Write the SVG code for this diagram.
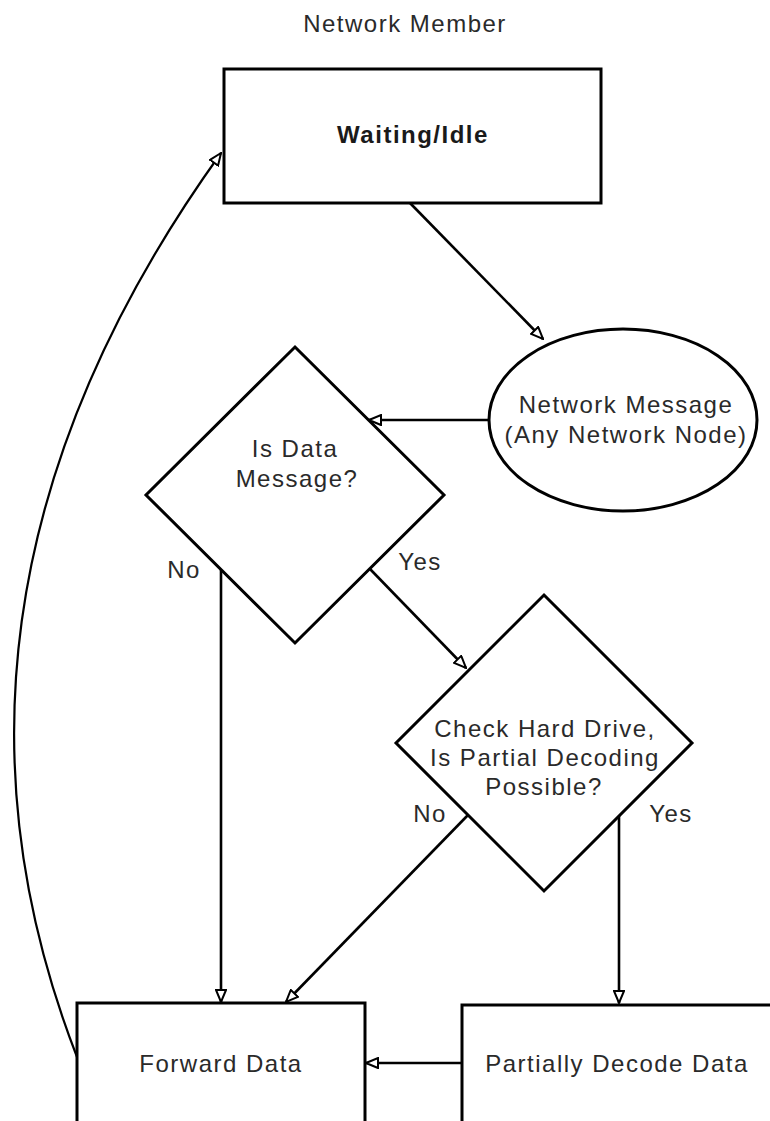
<svg xmlns="http://www.w3.org/2000/svg" width="770" height="1121" viewBox="0 0 770 1121">
<style>
.shape{fill:#fff;stroke:#000;stroke-width:3}
.conn{fill:none;stroke:#000;stroke-width:2.6}
.lbl{font-family:"Liberation Sans",Arial,sans-serif;font-size:24px;letter-spacing:1.5px;fill:#2a2a2a;text-anchor:middle}
.bold{font-weight:bold;fill:#1a1a1a}
</style>
<defs>
<marker id="arr" viewBox="0 0 14 12" refX="13" refY="6" markerWidth="14" markerHeight="12" markerUnits="userSpaceOnUse" orient="auto">
<path d="M1,1 L13,6 L1,11 Z" fill="#fff" stroke="#000" stroke-width="2"/>
</marker>
</defs>
<rect width="770" height="1121" fill="#fff"/>
<text class="lbl" x="405" y="32">Network Member</text>
<g id="connectors">
<path class="conn" d="M410,203 L543,339" marker-end="url(#arr)"/>
<path class="conn" d="M490,420 L369,420" marker-end="url(#arr)"/>
<path class="conn" d="M370,569 L466,668" marker-end="url(#arr)"/>
<path class="conn" d="M221,570 L221,1002" marker-end="url(#arr)"/>
<path class="conn" d="M468,815 L286,1002" marker-end="url(#arr)"/>
<path class="conn" d="M619,816 L619,1003" marker-end="url(#arr)"/>
<path class="conn" d="M462,1063 L366,1063" marker-end="url(#arr)"/>
<path class="conn" style="stroke-width:2.2" d="M77,1057 Q-100,600 221,153" marker-end="url(#arr)"/>
</g>
<g id="waiting">
<rect class="shape" x="224" y="69" width="377" height="134"/>
<text class="lbl bold" x="413" y="143">Waiting/Idle</text>
</g>
<g id="network-message">
<ellipse class="shape" cx="623" cy="420" rx="134" ry="91"/>
<text class="lbl" x="626" y="413">Network Message</text>
<text class="lbl" x="626" y="443">(Any Network Node)</text>
</g>
<g id="is-data">
<polygon class="shape" points="295,347 444,495 295,643 146,495"/>
<text class="lbl" x="295" y="457">Is Data</text>
<text class="lbl" x="297" y="487">Message?</text>
</g>
<g id="check-drive">
<polygon class="shape" points="544,595 692,743 544,891 396,743"/>
<text class="lbl" x="545" y="737">Check Hard Drive,</text>
<text class="lbl" x="545" y="766">Is Partial Decoding</text>
<text class="lbl" x="544" y="795">Possible?</text>
</g>
<g id="labels">
<text class="lbl" x="184" y="578">No</text>
<text class="lbl" x="420" y="570">Yes</text>
<text class="lbl" x="430" y="822">No</text>
<text class="lbl" x="671" y="822">Yes</text>
</g>
<g id="forward">
<rect class="shape" x="77" y="1003" width="288" height="140"/>
<text class="lbl" x="221" y="1072">Forward Data</text>
</g>
<g id="partial">
<rect class="shape" x="462" y="1005" width="330" height="140"/>
<text class="lbl" x="617" y="1072">Partially Decode Data</text>
</g>
</svg>
